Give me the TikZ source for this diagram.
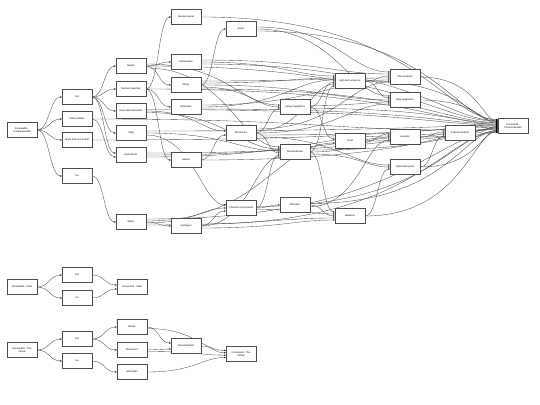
\documentclass[tikz,border=0pt]{standalone}
\usepackage{fontspec}
\setmainfont{Liberation Sans}
\usetikzlibrary{arrows.meta,calc,backgrounds}
\tikzset{
  box/.style={draw=black!70, line width=0.7pt, fill=white, minimum width=60pt, minimum height=30pt, inner sep=1pt, font=\fontsize{5}{6}\selectfont, align=center},
  link/.style={draw=black!70, line width=0.7pt, -{Stealth[length=4pt,width=3pt,black]}},
}
% general edge: source, source offset, target, target offset, a (long), b (long)
\newcommand{\edgeab}[6]{\draw[link] let \p1=($(#1.east)+(0,#2)$), \p2=($(#3.west)+(0,#4)$), \n1={\x2-\x1}, \n2={ifthenelse(\n1>120,#5,0.5)}, \n3={ifthenelse(\n1>120,#6,0.5)} in (\p1) .. controls (\x1+\n2*\n1*1pt,\y1) and (\x2-\n3*\n1*1pt,\y2) .. (\p2);}
\newcommand{\edgetos}[4]{\edgeab{#1}{#2}{#3}{#4}{0.6}{0.3}}
\newcommand{\edgeto}[3]{\edgeab{#1}{0}{#2}{#3}{0.6}{0.3}}
\newcommand{\tocc}[3]{\edgeab{#1}{#2}{cc}{#3}{0.72}{0.18}}
\begin{document}
\begin{tikzpicture}[x=2pt,y=-2pt]
\useasboundingbox (0,0) rectangle (540,405);
% main graph
\node[box] (rc) at (22,130) {Renewable -\\Commonwealth};
\node[box] (iron) at (77,97) {Iron};
\node[box] (iart) at (77,119) {India artifacts};
\node[box] (shv) at (77,140) {Ships from the Virtual};
\node[box] (ice) at (77,176) {Ice};
\node[box] (met) at (131,66) {Metals};
\node[box] (nuc) at (131,89) {Nuclear materials};
\node[box] (ree) at (131,111) {Rare earth elements};
\node[box] (slag) at (131,133) {Slag};
\node[box] (gem) at (131,155) {Gemstones};
\node[box] (wat) at (131,222) {Water};
\node[box] (nw) at (186,17) {Nuclear waste};
\node[box] (amm) at (186,62) {Ammunition};
\node[box] (all) at (186,85) {Alloys};
\node[box] (anti) at (186,107) {Antimatter};
\node[box] (hel) at (186,160) {Helium};
\node[box] (hyd) at (186,226) {Hydrogen};
\node[box] (arm) at (241,29) {Armor};
\node[box] (ele) at (241,133) {Electronics};
\node[box] (chem) at (241,208) {Chemical compounds};
\node[box] (heq) at (295,107) {Heavy equipment};
\node[box] (nano) at (295,152) {Nanomaterials};
\node[box] (narc) at (295,205) {Narcotics};
\node[box] (htw) at (350,81) {High-tech weapons};
\node[box] (food) at (350,141) {Food};
\node[box] (med) at (350,216) {Medicine};
\node[box] (sw) at (405,77) {Ship weapons};
\node[box] (se) at (405,100) {Ship equipment};
\node[box] (lux) at (405,137) {Luxuries};
\node[box] (cyb) at (405,167) {Cybernetic parts};
\node[box] (cult) at (460,133) {Cultural artifacts};
\node[box] (cc) at (513,126) {Consumed -\\Commonwealth};
% India
\node[box] (ri) at (22,287) {Renewable - India};
\node[box] (ii) at (77,275) {Iron};
\node[box] (icei) at (77,298) {Ice};
\node[box] (ci) at (132,287) {Consumed - India};
% Virtual
\node[box] (rv) at (22,350) {Renewable - The\\Virtual};
\node[box] (iv) at (77,339) {Iron};
\node[box] (icev) at (77,361) {Ice};
\node[box] (mv) at (132,327) {Metals};
\node[box] (ev) at (132,350) {Electronics};
\node[box] (av) at (132,372) {Antimatter};
\node[box] (nv) at (186,346) {Nanomaterials};
\node[box] (cv) at (241,354) {Consumed - The\\Virtual};
\begin{scope}[on background layer]
\edgeto{rc}{iron}{0}
\edgeto{rc}{iart}{0}
\edgeto{rc}{shv}{0}
\edgeto{rc}{ice}{0}
\edgeto{iron}{met}{0}
\edgeto{iron}{nuc}{0}
\edgeto{iron}{ree}{0}
\edgeto{iron}{slag}{0}
\edgeto{iron}{gem}{-2}
\edgeto{iart}{gem}{2}
\edgeto{ice}{wat}{0}
\edgeto{nuc}{nw}{0}
\edgeto{met}{amm}{0}
\edgeto{met}{all}{0}
\edgeto{nuc}{anti}{0}
\edgeto{nuc}{hel}{0}
\edgeto{wat}{hyd}{0}
\edgeto{all}{arm}{0}
\edgeto{ree}{ele}{-2}
\edgeto{hel}{ele}{2}
\edgetos{slag}{2}{chem}{-3}
\edgetos{wat}{1}{chem}{0}
\edgeto{hyd}{chem}{3}
\edgetos{met}{-2}{heq}{-2}
\edgetos{all}{2}{heq}{0}
\edgeto{ele}{heq}{2}
\edgetos{met}{2}{nano}{-5}
\edgetos{ree}{1.5}{nano}{-3}
\edgetos{slag}{0}{nano}{-1}
\edgeto{ele}{nano}{1}
\edgeto{chem}{nano}{3}
\edgetos{hyd}{0}{nano}{5}
\edgeto{chem}{narc}{0}
\edgetos{amm}{0}{htw}{-5}
\edgetos{all}{-2}{htw}{-3}
\edgetos{anti}{0}{htw}{-1}
\edgeto{heq}{htw}{1}
\edgetos{ele}{-2}{htw}{3}
\edgeto{nano}{htw}{5}
\edgeto{heq}{food}{-2}
\edgetos{wat}{-1}{food}{2}
\edgeto{nano}{med}{-4}
\edgetos{chem}{1.5}{med}{-2}
\edgeto{narc}{med}{0}
\edgetos{wat}{3}{med}{2}
\edgetos{hyd}{2}{med}{4}
\edgetos{arm}{-2}{sw}{-5}
\edgetos{amm}{-2}{sw}{-3}
\edgeto{htw}{sw}{-1}
\edgetos{all}{-4}{sw}{1}
\edgetos{anti}{-2}{sw}{3}
\edgetos{ele}{-4}{sw}{5}
\edgetos{arm}{0}{se}{-4}
\edgeto{htw}{se}{-2}
\edgetos{all}{0}{se}{0}
\edgetos{heq}{-1.5}{se}{2}
\edgetos{ele}{0}{se}{4}
\edgeto{food}{lux}{-3}
\edgetos{gem}{2}{lux}{-1}
\edgetos{nano}{0}{lux}{1}
\edgetos{narc}{1.5}{lux}{3}
\edgetos{ele}{4}{cyb}{-2}
\edgetos{nano}{2}{cyb}{0}
\edgeto{med}{cyb}{2}
\edgeto{iart}{cult}{-3}
\edgeto{lux}{cult}{-1}
\edgetos{gem}{0}{cult}{1}
\edgeto{cyb}{cult}{3}
\tocc{nw}{0}{-6.5}
\tocc{arm}{2}{-6}
\tocc{amm}{2}{-5.5}
\tocc{met}{0}{-5}
\tocc{sw}{0}{-4.5}
\tocc{htw}{0}{-4}
\tocc{all}{4}{-3.5}
\tocc{nuc}{0}{-3}
\tocc{se}{0}{-2.5}
\tocc{anti}{2}{-2}
\tocc{heq}{1.5}{-1.5}
\tocc{ree}{-1.5}{-1}
\tocc{slag}{-2}{-0.5}
\tocc{ele}{2}{0}
\tocc{cult}{0}{0.5}
\tocc{lux}{0}{1}
\tocc{shv}{0}{1.5}
\tocc{food}{0}{2}
\tocc{nano}{-2}{2.5}
\tocc{gem}{-2}{3}
\tocc{hel}{0}{3.5}
\tocc{cyb}{0}{4}
\tocc{narc}{-1.5}{4.5}
\tocc{chem}{-1.5}{5}
\tocc{med}{0}{5.5}
\tocc{wat}{-3}{6}
\tocc{hyd}{-2}{6.5}
% India
\edgeto{ri}{ii}{0}
\edgeto{ri}{icei}{0}
\edgeto{ii}{ci}{-2}
\edgeto{icei}{ci}{2}
% Virtual
\edgeto{rv}{iv}{0}
\edgeto{rv}{icev}{0}
\edgeto{iv}{mv}{0}
\edgeto{iv}{ev}{0}
\edgeto{icev}{av}{0}
\edgeto{mv}{nv}{-3}
\edgeto{ev}{nv}{3}
\edgetos{mv}{1.5}{cv}{-3.5}
\edgeto{nv}{cv}{-1.2}
\edgetos{ev}{1.5}{cv}{1.2}
\edgeto{av}{cv}{3.5}
\end{scope}
\end{tikzpicture}
\end{document}
